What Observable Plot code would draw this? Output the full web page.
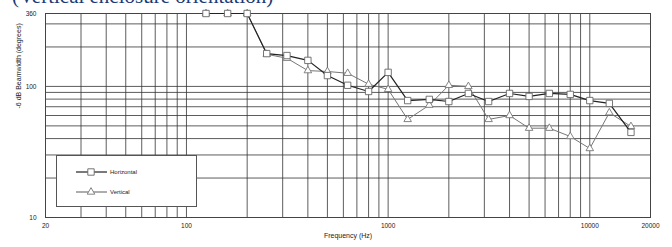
<!DOCTYPE html>
<html>
<head>
<meta charset="utf-8">
<script src="https://cdn.jsdelivr.net/npm/d3@7"></script>
<script src="https://cdn.jsdelivr.net/npm/@observablehq/plot@0.6"></script>
<style>
  html, body { margin: 0; padding: 0; background: white; overflow: hidden; }
  #wrap { position: relative; width: 672px; height: 247px; }
  #title { position: absolute; left: 12px; top: -16px; font-family: "Liberation Serif", "Times New Roman", serif; font-size: 21px; color: #1c3a78; white-space: nowrap; z-index: 2; }
</style>
</head>
<body>
<div id="wrap">
  <div id="title">(Vertical enclosure orientation)</div>
  <div id="chart"></div>
</div>
<script>
const frequencies = [125, 160, 200, 250, 315, 400, 500, 630, 800, 1000, 1250, 1600, 2000, 2500, 3150, 4000, 5000, 6300, 8000, 10000, 12500, 16000];
const horizontal = [360, 360, 360, 178, 172, 158, 121, 102, 91.5, 128, 78, 79.6, 76.7, 88.4, 76.7, 88.4, 83.9, 88.4, 86.9, 78, 74.2, 44.6];
const vertical = [360, 360, 360, 176, 164, 132, 130, 126, 104, 95, 56, 72, 102, 100, 56, 60, 48, 48, 41.5, 33.6, 63, 49.5];
const xTickValues = [20, 100, 1000, 10000, 20000];
const yTickValues = [10, 100, 360];
const xGrid = [30, 40, 50, 60, 70, 80, 90, 100, 200, 300, 400, 500, 600, 700, 800, 900, 1000, 2000, 3000, 4000, 5000, 6000, 7000, 8000, 9000, 10000];
const yGrid = [20, 30, 40, 50, 60, 70, 80, 90, 100, 200, 300];
const seriesNames = ["Horizontal", "Vertical"];
const xLabel = "Frequency (Hz)";
const yLabel = "-6 dB Beamwidth (degrees)";

const horData = frequencies.map((f, i) => ({f, v: horizontal[i]}));
const verData = frequencies.map((f, i) => ({f, v: vertical[i]}));

const chart = Plot.plot({
  width: 672,
  height: 247,
  marginLeft: 45,
  marginRight: 22,
  marginTop: 13,
  marginBottom: 30,
  style: {fontFamily: "Liberation Sans, Arial, sans-serif", fontSize: "6.5px", background: "transparent", color: "#222"},
  x: {type: "log", domain: [20, 20000], ticks: xTickValues, tickSize: 0, tickPadding: 6, tickFormat: d => String(d), label: null},
  y: {type: "log", domain: [10, 360], ticks: yTickValues, tickSize: 0, tickPadding: 9, tickFormat: d => String(d), label: null},
  marks: [
    Plot.ruleX(xGrid, {stroke: "#333", strokeWidth: 0.8}),
    Plot.ruleY(yGrid, {stroke: "#333", strokeWidth: 0.8}),
    Plot.frame({stroke: "#444", strokeWidth: 1}),
    Plot.line(verData, {x: "f", y: "v", stroke: "#777", strokeWidth: 1}),
    Plot.dot(verData, {x: "f", y: "v", symbol: "triangle", r: 2.8, fill: "white", stroke: "#777", strokeWidth: 0.9}),
    Plot.line(horData, {x: "f", y: "v", stroke: "#222", strokeWidth: 1.2}),
    Plot.dot(horData, {x: "f", y: "v", symbol: "square", r: 3.6, fill: "white", stroke: "#666", strokeWidth: 0.9}),
    Plot.text([xLabel], {frameAnchor: "bottom", dy: 20, text: d => d, fontSize: 7}),
    Plot.text([yLabel], {frameAnchor: "left", dx: -27, dy: -7, rotate: -90, text: d => d, fontSize: 7})
  ]
});

document.getElementById("chart").appendChild(chart);

// Legend box inside the plot area (lower left)
const svg = d3.select(chart);
const lg = svg.append("g").attr("class", "legend").attr("text-anchor", "start");
lg.append("rect").attr("x", 56.5).attr("y", 155.5).attr("width", 140).attr("height", 51)
  .attr("fill", "white").attr("stroke", "#555").attr("stroke-width", 1);
const legendRows = [
  {name: seriesNames[0], y: 172, stroke: "#222", mark: d3.symbolSquare, size: 3.6 * 3.6 * Math.PI, mstroke: "#666"},
  {name: seriesNames[1], y: 192, stroke: "#777", mark: d3.symbolTriangle, size: 2.8 * 2.8 * Math.PI, mstroke: "#777"}
];
legendRows.forEach(r => {
  lg.append("line").attr("x1", 76).attr("x2", 107).attr("y1", r.y).attr("y2", r.y)
    .attr("stroke", r.stroke).attr("stroke-width", 1.2);
  lg.append("path").attr("d", d3.symbol(r.mark, r.size)())
    .attr("transform", `translate(91,${r.y})`).attr("fill", "white").attr("stroke", r.mstroke).attr("stroke-width", 0.9);
  lg.append("text").attr("x", 110).attr("y", r.y).attr("dy", "0.32em").attr("text-anchor", "start")
    .attr("font-size", 6).attr("fill", "#222").text(r.name);
});
</script>
</body>
</html>
